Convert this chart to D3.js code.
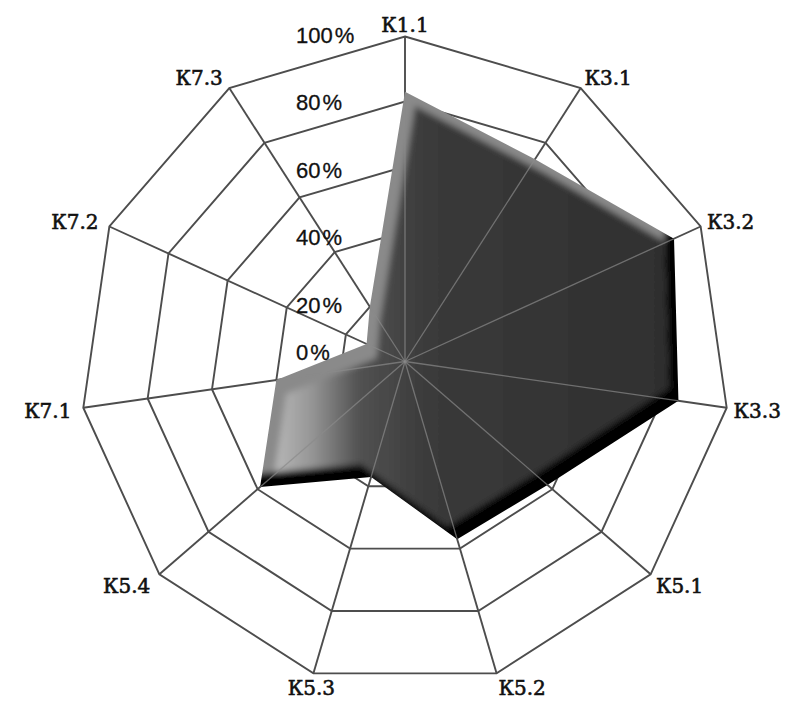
<!DOCTYPE html>
<html>
<head>
<meta charset="utf-8">
<script src="https://cdn.jsdelivr.net/npm/d3@7/dist/d3.min.js"></script>
<style>
  html, body { margin: 0; padding: 0; background: #ffffff; }
  svg { display: block; }
</style>
</head>
<body>
<svg id="chart" width="792" height="701"></svg>
<script>
// ---- data ----
const categories = ["К1.1", "К3.1", "К3.2", "К3.3", "К5.1", "К5.2", "К5.3", "К5.4", "К7.1", "К7.2", "К7.3"];
const values = [83, 74, 91, 85, 58, 57, 37, 59, 40, 13, 20];
const tickValues = [0, 20, 40, 60, 80, 100];

// ---- layout ----
const W = 792, H = 701;
const cx = 405, cy = 361.5, R = 325;

const svg = d3.select("#chart");
const n = categories.length;

const angle = d3.scaleLinear().domain([0, n]).range([0, 2 * Math.PI]);
const radius = d3.scaleLinear().domain([0, 100]).range([0, R]);

const radial = d3.lineRadial()
  .angle((d, i) => angle(i))
  .radius(d => radius(d))
  .curve(d3.curveLinearClosed);

const g = svg.append("g").attr("transform", `translate(${cx},${cy})`);

const defs = svg.append("defs");
const polyD = radial(values);

defs.append("clipPath").attr("id", "polyClip")
  .append("path").attr("d", polyD);
defs.append("clipPath").attr("id", "bClip")
  .append("path").attr("d", polyD).attr("transform", "translate(-10,-13)");

const grad = defs.append("linearGradient").attr("id", "faceGrad")
  .attr("gradientUnits", "userSpaceOnUse")
  .attr("x1", 255 - cx).attr("y1", 0).attr("x2", 720 - cx).attr("y2", 0);
[[0, "#c0c0c0"], [0.1, "#969696"], [0.2, "#525252"], [0.35, "#3a3a3a"], [1, "#2c2c2c"]]
  .forEach(([o, c]) => grad.append("stop").attr("offset", o).attr("stop-color", c));

const filt = defs.append("filter").attr("id", "soft")
  .attr("filterUnits", "userSpaceOnUse")
  .attr("x", -cx).attr("y", -cy).attr("width", W).attr("height", H);
filt.append("feGaussianBlur").attr("stdDeviation", 3);

// ---- grid rings ----
const gridColor = "#4d4d4d";
g.append("g").selectAll("path")
  .data(tickValues.filter(t => t > 0))
  .join("path")
  .attr("d", t => radial(categories.map(() => t)))
  .attr("fill", "none")
  .attr("stroke", gridColor)
  .attr("stroke-width", 1.9);

// ---- spokes (under) ----
const spokeEnd = i => {
  const a = angle(i);
  return [Math.sin(a) * radius(100), -Math.cos(a) * radius(100)];
};
g.append("g").selectAll("line")
  .data(categories)
  .join("line")
  .attr("x1", 0).attr("y1", 0)
  .attr("x2", (d, i) => spokeEnd(i)[0])
  .attr("y2", (d, i) => spokeEnd(i)[1])
  .attr("stroke", gridColor)
  .attr("stroke-width", 1.9);

// ---- filled series with bevel shading ----
const shade = g.append("g").attr("clip-path", "url(#polyClip)")
  .append("g").attr("filter", "url(#soft)");
shade.append("rect").attr("x", -cx).attr("y", -cy).attr("width", W).attr("height", H).attr("fill", "#060606");
shade.append("path").attr("d", polyD).attr("transform", "translate(-10,-13)").attr("fill", "#8a8a8a");
shade.append("g").attr("clip-path", "url(#bClip)")
  .append("path").attr("d", polyD).attr("transform", "translate(10,14)").attr("fill", "url(#faceGrad)");

// ---- spokes visible over the fill ----
g.append("g").attr("clip-path", "url(#polyClip)").selectAll("line")
  .data(categories)
  .join("line")
  .attr("x1", 0).attr("y1", 0)
  .attr("x2", (d, i) => spokeEnd(i)[0])
  .attr("y2", (d, i) => spokeEnd(i)[1])
  .attr("stroke", "#8a8a8a")
  .attr("stroke-opacity", 0.7)
  .attr("stroke-width", 1.3);

// ---- value axis labels ----
const labelBase = d3.scaleLinear().domain([20, 100]).range([312.5 - cy, 42.5 - cy]);
const vt = g.append("g").selectAll("text")
  .data(tickValues)
  .join("text")
  .attr("x", 296 - cx)
  .attr("y", t => t === 0 ? -2 : labelBase(t))
  .attr("font-family", "'Liberation Sans', Arial, sans-serif")
  .attr("font-size", 22)
  .attr("fill", "#111")
  .attr("stroke", "#111")
  .attr("stroke-width", 0.3);
vt.append("tspan").text(t => String(t));
vt.append("tspan").attr("dx", 2).text("%");

// ---- category labels ----
g.append("g").selectAll("text")
  .data(categories)
  .join("text")
  .each(function (d, i) {
    const a = angle(i);
    const s = Math.sin(a), c = Math.cos(a);
    const vx = s * R, vy = -c * R;
    let x, anchor;
    if (Math.abs(s) < 0.1) { x = vx; anchor = "middle"; }
    else if (s > 0) { x = vx + 7 * s; anchor = "start"; }
    else if (s > -0.5) { x = vx - 2; anchor = "middle"; }
    else { x = vx - 12 * Math.abs(s); anchor = "end"; }
    const y = Math.min(vy + 8 - (c > 0 ? 13 : 17) * c, H - cy - 6);
    d3.select(this).attr("x", x).attr("y", y).attr("text-anchor", anchor);
  })
  .attr("font-family", "'DejaVu Serif', 'Liberation Serif', serif")
  .attr("font-size", 20)
  .attr("fill", "#111")
  .attr("stroke", "#111")
  .attr("stroke-width", 0.6)
  .text(d => d);
</script>
</body>
</html>
